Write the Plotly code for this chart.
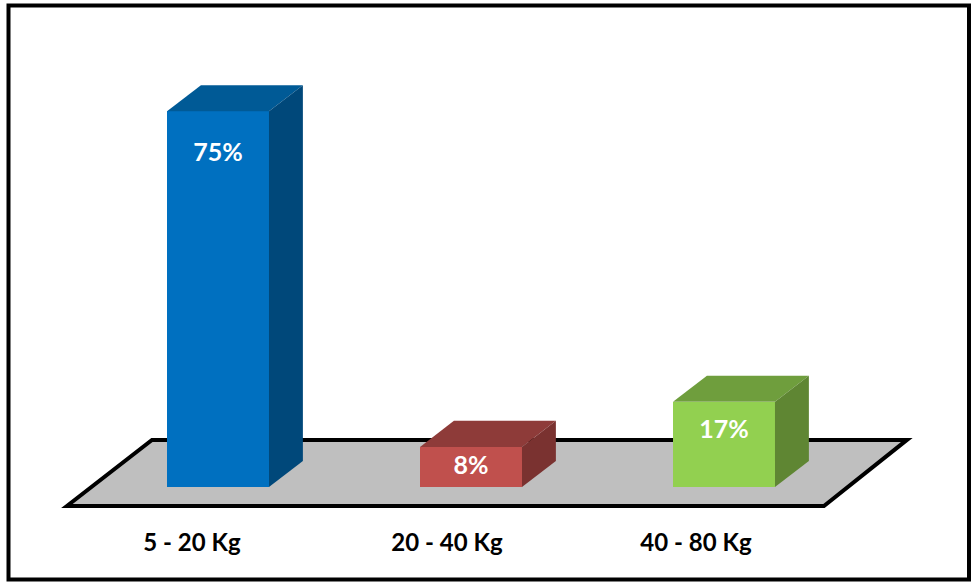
import plotly.graph_objects as go

# Share of units by weight class
categories = ["5 - 20 Kg", "20 - 40 Kg", "40 - 80 Kg"]
shares = [75, 8, 17]

front_colors = ["#0070C0", "#C0504D", "#92D050"]
top_colors = ["#005A96", "#8E3B39", "#6F9E3D"]
side_colors = ["#00487A", "#7A3230", "#5F8633"]

# Label height below the top of each bar, in percentage points
label_drop = [8.7, 4.2, 5.9]

positions = [0, 1, 2]
bar_width = 0.403
depth_x = 0.134   # oblique extrusion of each block
depth_y = 5.2
label_shift = [-0.103, -0.095, -0.111]  # axis labels sit under the floor's front edge

PLOT_H = 517  # pixel height of the plotting area

fig = go.Figure()

fig.add_trace(go.Bar(
    x=positions, y=shares, width=bar_width,
    marker=dict(color=front_colors, line=dict(width=0)),
    hoverinfo="skip", showlegend=False,
))

# Top and side faces of each block
for pos, val, top_c, side_c in zip(positions, shares, top_colors, side_colors):
    left, right = pos - bar_width / 2, pos + bar_width / 2
    fig.add_trace(go.Scatter(
        x=[left, right, right + depth_x, left + depth_x, left],
        y=[val, val, val + depth_y, val + depth_y, val],
        mode="lines", fill="toself", fillcolor=top_c,
        line=dict(width=0), hoverinfo="skip", showlegend=False,
    ))
    fig.add_trace(go.Scatter(
        x=[right, right + depth_x, right + depth_x, right, right],
        y=[val, val + depth_y, depth_y, 0, val],
        mode="lines", fill="toself", fillcolor=side_c,
        line=dict(width=0), hoverinfo="skip", showlegend=False,
    ))

# Value labels on the front faces
fig.add_trace(go.Scatter(
    x=positions,
    y=[v - d for v, d in zip(shares, label_drop)],
    mode="text",
    text=[f"{v}%" for v in shares],
    textposition="middle center",
    textfont=dict(family="Lato", size=25, color="white", weight="bold"),
    hoverinfo="skip", showlegend=False,
))

# Grey floor plane under the blocks
floor_x = [-0.597, 2.395, 2.723, -0.261]
floor_y = [-3.8, -3.8, 9.4, 9.4]
floor_path = "M " + " L ".join(f"{x} {y}" for x, y in zip(floor_x, floor_y)) + " Z"

fig.update_layout(
    width=973, height=586,
    margin=dict(l=0, r=0, t=0, b=586 - PLOT_H, autoexpand=False),
    paper_bgcolor="white", plot_bgcolor="white",
    bargap=0,
    xaxis=dict(
        range=[-0.8617, 2.9842],
        tickmode="array",
        tickvals=[p + s for p, s in zip(positions, label_shift)],
        ticktext=categories,
        tickfont=dict(family="Lato", size=24, color="black", weight="bold"),
        ticks="outside", ticklen=4, tickcolor="rgba(0,0,0,0)",
        showgrid=False, zeroline=False, showline=False,
    ),
    yaxis=dict(
        range=[-5.99, 97.2],
        visible=False, showgrid=False, zeroline=False,
    ),
    shapes=[
        dict(type="path", path=floor_path, xref="x", yref="y", layer="below",
             fillcolor="#BFBFBF", line=dict(color="black", width=4)),
        # Outer frame, placed relative to the plotting area
        dict(type="rect", xref="paper", yref="paper", layer="above",
             x0=8.5 / 973, x1=969 / 973,
             y0=(PLOT_H - 579.5) / PLOT_H, y1=(PLOT_H - 5.5) / PLOT_H,
             line=dict(color="black", width=4), fillcolor="rgba(0,0,0,0)"),
    ],
)

fig.write_html("out.html")
